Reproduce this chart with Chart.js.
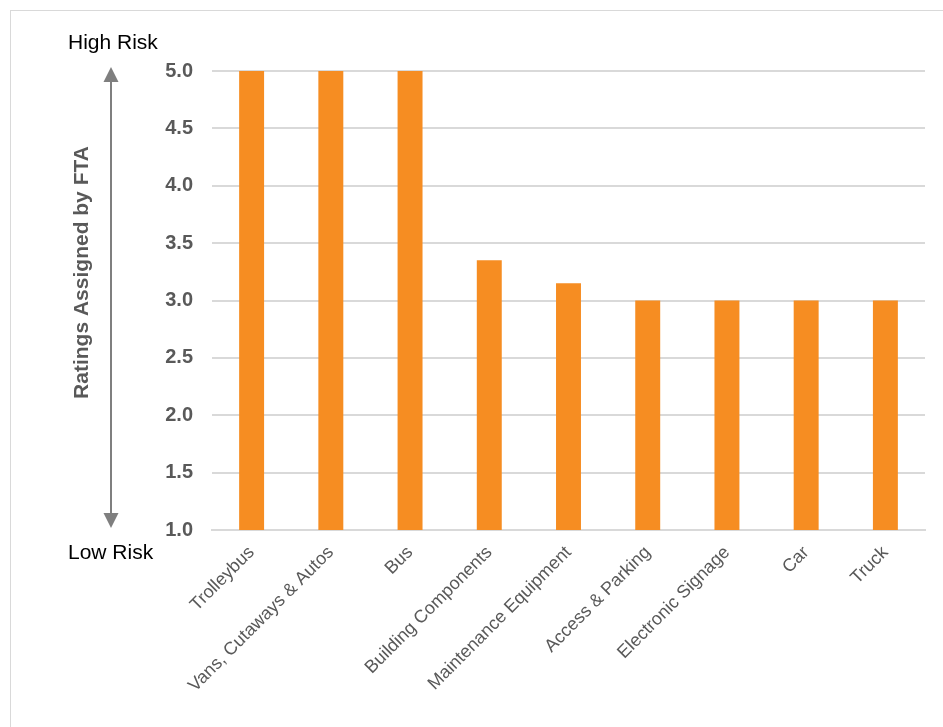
<!DOCTYPE html>
<html>
<head>
<meta charset="utf-8">
<title>Ratings Assigned by FTA</title>
<script src="https://cdn.jsdelivr.net/npm/chart.js@4.4.1/dist/chart.umd.min.js"></script>
<style>
  html, body { margin: 0; padding: 0; background: #fff; overflow: hidden; }
  #wrap { position: relative; width: 943px; height: 727px; overflow: hidden; }
  #frame { position: absolute; left: 10px; top: 10px; width: 1000px; height: 800px;
           border: 1px solid #d9d9d9; box-sizing: border-box; }
  #chart { position: absolute; left: 0; top: 0; }
</style>
</head>
<body>
<div id="wrap">
  <div id="frame"></div>
  <canvas id="chart" width="943" height="727"></canvas>
</div>
<script>
// Asset categories and the risk rating assigned to each
const categories = [
  'Trolleybus',
  'Vans, Cutaways & Autos',
  'Bus',
  'Building Components',
  'Maintenance Equipment',
  'Access & Parking',
  'Electronic Signage',
  'Car',
  'Truck'
];
const ratings = [5.0, 5.0, 5.0, 3.35, 3.15, 3.0, 3.0, 3.0, 3.0];

// Rating axis range and labels
const ratingMin = 1.0;
const ratingMax = 5.0;
const ratingStep = 0.5;
const axisTitle = 'Ratings Assigned by FTA';
const highLabel = 'High Risk';
const lowLabel = 'Low Risk';

const FONT = '"Liberation Sans", Arial, Helvetica, sans-serif';
const GREY_TEXT = '#595959';
const GRID = '#d9d9d9';
const BAR = '#f68d22';

// Axis title, risk arrow and High/Low labels on the left of the rating axis
const riskAxisPlugin = {
  id: 'riskAxis',
  afterDraw(chart) {
    const ctx = chart.ctx;
    const y = chart.scales.y;
    const topPx = y.getPixelForValue(ratingMax);
    const botPx = y.getPixelForValue(ratingMin);
    const ax = 111;
    ctx.save();

    // double-headed arrow
    ctx.strokeStyle = '#7f7f7f';
    ctx.fillStyle = '#7f7f7f';
    ctx.lineWidth = 2;
    const tipTop = topPx - 4, tipBot = botPx - 2, head = 15, half = 7.5;
    ctx.beginPath();
    ctx.moveTo(ax, tipTop + head);
    ctx.lineTo(ax, tipBot - head);
    ctx.stroke();
    ctx.beginPath();
    ctx.moveTo(ax, tipTop);
    ctx.lineTo(ax - half, tipTop + head);
    ctx.lineTo(ax + half, tipTop + head);
    ctx.closePath();
    ctx.fill();
    ctx.beginPath();
    ctx.moveTo(ax, tipBot);
    ctx.lineTo(ax - half, tipBot - head);
    ctx.lineTo(ax + half, tipBot - head);
    ctx.closePath();
    ctx.fill();

    // High / Low labels
    ctx.fillStyle = '#000000';
    ctx.font = '21px ' + FONT;
    ctx.textAlign = 'left';
    ctx.textBaseline = 'alphabetic';
    ctx.fillText(highLabel, 68, topPx - 22);
    ctx.fillText(lowLabel, 68, botPx + 29);

    // rotated axis title
    ctx.fillStyle = GREY_TEXT;
    ctx.font = 'bold 21px ' + FONT;
    ctx.translate(88, (topPx + botPx) / 2 - 28);
    ctx.rotate(-Math.PI / 2);
    ctx.textAlign = 'center';
    ctx.textBaseline = 'alphabetic';
    ctx.fillText(axisTitle, 0, 0);
    ctx.restore();
  }
};

new Chart(document.getElementById('chart'), {
  type: 'bar',
  data: {
    labels: categories,
    datasets: [{
      data: ratings,
      backgroundColor: BAR,
      borderWidth: 0,
      categoryPercentage: 1.0,
      barPercentage: 0.315
    }]
  },
  options: {
    responsive: false,
    animation: false,
    events: [],
    layout: { padding: { left: 150, top: 71, right: 18, bottom: 0 } },
    plugins: {
      legend: { display: false },
      tooltip: { enabled: false },
      title: { display: false }
    },
    scales: {
      x: {
        grid: { display: false, drawTicks: false },
        border: { display: true, color: GRID, width: 2 },
        ticks: {
          autoSkip: false,
          maxRotation: 45,
          minRotation: 45,
          padding: 12,
          color: GREY_TEXT,
          font: { family: FONT, size: 18 }
        },
        afterFit(scale) { scale.height = 197; }
      },
      y: {
        min: ratingMin,
        max: ratingMax,
        grid: { color: GRID, lineWidth: 2, drawTicks: false },
        border: { display: false },
        ticks: {
          stepSize: ratingStep,
          padding: 19,
          color: GREY_TEXT,
          font: { family: FONT, size: 20, weight: 'bold' },
          callback: v => Number(v).toFixed(1)
        },
        afterFit(scale) { scale.width = 62; }
      }
    }
  },
  plugins: [riskAxisPlugin]
});
</script>
</body>
</html>
